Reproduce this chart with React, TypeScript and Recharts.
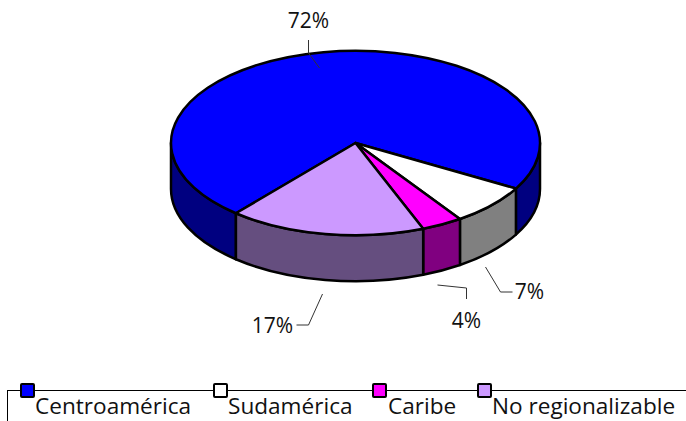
import { Legend, Pie, PieChart } from 'recharts';

const regions = ['Centroamérica', 'Sudamérica', 'Caribe', 'No regionalizable'];
const shares = [72, 7.2, 3.6, 17.2];
const topColors = ['#0000FF', '#FFFFFF', '#FF00FF', '#CC99FF'];
const wallColors = ['#000080', '#808080', '#800080', '#654E7F'];

const data = regions.map((name, i) => ({ name, value: shares[i], fill: topColors[i] }));

const FONT = '"Open Sans", sans-serif';
const TILT = 0.5;
const DEPTH = 46;

// label anchor and leader points, relative to the pie centre
const callouts = [
  { x: -47, y: -115, leader: [[-47, -103], [-47, -90], [-36, -75]] },
  { x: 174, y: 156, leader: [[130, 124], [145, 149], [157, 149]] },
  { x: 111, y: 185, leader: [[82, 142], [111, 145], [111, 156]] },
  { x: -83, y: 190, leader: [[-33, 151], [-47, 182], [-59, 182]] },
];
const legendX = [20, 213, 372, 477];
const legendTextX = [35, 228, 388, 492];

const pt = (cx: number, cy: number, r: number, deg: number, drop = 0) => {
  const rad = (deg * Math.PI) / 180;
  return [cx + r * Math.cos(rad), cy + r * TILT * Math.sin(rad) + drop];
};

const arc = (cx: number, cy: number, r: number, to: number, sweep: number, large: number, drop = 0) => {
  const [x, y] = pt(cx, cy, r, to, drop);
  return `A${r} ${r * TILT} 0 ${large} ${sweep} ${x} ${y}`;
};

const Slice3D = (props: any) => {
  const { cx, cy, outerRadius: r, startAngle, endAngle, fill, index } = props;
  const a1 = -startAngle;
  const a2 = -endAngle;
  const walls: string[] = [];
  [-360, 0, 360].forEach((k) => {
    const lo = Math.max(a1, k);
    const hi = Math.min(a2, k + 180);
    if (hi > lo) {
      const [x1, y1] = pt(cx, cy, r, lo);
      const [x2, y2] = pt(cx, cy, r, hi, DEPTH);
      walls.push(
        `M${x1} ${y1}${arc(cx, cy, r, hi, 1, 0)}L${x2} ${y2}${arc(cx, cy, r, lo, 0, 0, DEPTH)}Z`,
      );
    }
  });
  const [sx, sy] = pt(cx, cy, r, a1);
  const large = a2 - a1 > 180 ? 1 : 0;
  const top = `M${cx} ${cy}L${sx} ${sy}${arc(cx, cy, r, a2, 1, large)}Z`;
  return (
    <g>
      {walls.map((d) => (
        <path key={d} d={d} fill={wallColors[index]} stroke='#000' strokeWidth={2.5} strokeLinejoin='round' />
      ))}
      <path d={top} fill={fill} stroke='#000' strokeWidth={2.5} strokeLinejoin='round' />
    </g>
  );
};

const Callout = (props: any) => {
  const { cx, cy, index, value } = props;
  const c = callouts[index];
  return (
    <g>
      <polyline
        points={c.leader.map(([x, y]) => `${cx + x},${cy + y}`).join(' ')}
        fill='none'
        stroke='#333'
        strokeWidth={1}
      />
      <text x={cx + c.x} y={cy + c.y} textAnchor='middle' fontFamily={FONT} fontSize={21} fill='#111'>
        {Math.round(value)}%
      </text>
    </g>
  );
};

const LegendBox = ({ payload }: any) => (
  <div style={{ position: 'relative', width: 686, height: 40 }}>
    <div
      style={{
        position: 'absolute',
        left: 7,
        top: 9,
        width: 679,
        height: 31,
        borderTop: '1px solid #000',
        borderLeft: '1px solid #000',
        boxSizing: 'border-box',
      }}
    />
    {(payload ?? []).map((item: any, i: number) => (
      <div key={item.value}>
        <div
          style={{
            position: 'absolute',
            left: legendX[i],
            top: 2,
            width: 15,
            height: 15,
            boxSizing: 'border-box',
            border: '2px solid #000',
            borderRadius: 2,
            background: item.color,
          }}
        />
        <span
          style={{
            position: 'absolute',
            left: legendTextX[i],
            top: 11,
            fontFamily: FONT,
            fontSize: 22.6,
            lineHeight: '27px',
            color: '#111',
            whiteSpace: 'nowrap',
          }}
        >
          {item.value}
        </span>
      </div>
    ))}
  </div>
);

export default function App() {
  return (
    <div style={{ position: 'absolute', left: 0, top: 0, width: 686, height: 421, overflow: 'hidden', background: '#fff' }}>
      <PieChart width={686} height={421} margin={{ top: 0, right: 0, bottom: 0, left: 0 }}>
        <Pie
          data={data}
          dataKey='value'
          nameKey='name'
          cx={355.5}
          cy={143}
          outerRadius={184.5}
          startAngle={-130.4}
          endAngle={-490.4}
          shape={Slice3D}
          label={Callout}
          labelLine={false}
          isAnimationActive={false}
        />
        <Legend
          content={LegendBox}
          itemSorter={null}
          wrapperStyle={{ position: 'absolute', left: 0, top: 381, width: 686, height: 40 }}
        />
      </PieChart>
    </div>
  );
}
